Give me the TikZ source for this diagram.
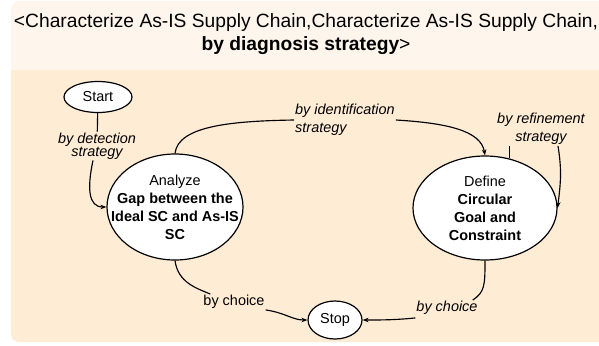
\documentclass[tikz,border=0pt]{standalone}
\usepackage{fontspec}
\setmainfont{Liberation Sans}
\usetikzlibrary{shapes.geometric,arrows.meta}
\definecolor{headbg}{RGB}{254,246,236}
\definecolor{bodybg}{RGB}{254,236,213}
\tikzset{
  stateell/.style={ellipse,draw=black,line width=1.2bp,fill=white,inner sep=0pt},
  ntext/.style={align=center,font=\fontsize{14.5}{18}\selectfont},
  lbl/.style={align=center,inner sep=1bp,font=\fontsize{14.5}{18}\selectfont\itshape},
  conn/.style={line width=1.15bp,draw=black},
  arr/.style={conn,-{Stealth[length=6bp,width=4.5bp]}}
}
\begin{document}
\begin{tikzpicture}[x=1bp,y=-1bp]
\useasboundingbox (0,0) rectangle (599,345);
% background
\fill[bodybg,rounded corners=8bp] (11,50) rectangle (640,342);
\fill[headbg] (11,70) [rounded corners=8bp] -- (11,1) -- (640,1) [sharp corners] -- (640,70) -- cycle;
% title
\node[align=center,font=\fontsize{19.3}{23.5}\selectfont] (title) at (306,34)
  {<Characterize As-IS Supply Chain,Characterize As-IS Supply Chain,\\\textbf{by diagnosis strategy}>};
% states
\node[stateell,minimum width=68bp,minimum height=31bp,font=\fontsize{14.5}{18}\selectfont] (st) at (98,97) {Start};
\node[stateell,minimum width=54bp,minimum height=38bp,font=\fontsize{14.5}{18}\selectfont] (sp) at (335,320) {Stop};
\node[stateell,minimum width=136bp,minimum height=106bp,
  label={[ntext]center:Analyze\\\textbf{Gap between the}\\\textbf{Ideal SC and As-IS}\\\textbf{SC}}] (an) at (175,207) {};
\node[stateell,minimum width=144bp,minimum height=104bp,
  label={[ntext]center:Define\\\textbf{Circular}\\\textbf{Goal and}\\\textbf{Constraint}}] (df) at (485,208) {};
% labels
\node[lbl,font=\fontsize{14.5}{13}\selectfont\itshape] (det) at (97,146) {by detection\\strategy};
\node[lbl,align=left,anchor=west] (idl) at (294,120) {by identification\\strategy};
\node[lbl] (ref) at (541,129) {by refinement\\strategy};
\node[lbl,font=\fontsize{14.5}{18}\selectfont] (ch1) at (234,302) {by choice};
\node[lbl] (ch2) at (447,308) {by choice};
% connectors
\draw[conn] (st) -- (det);
\draw[arr] ([xshift=-4bp]det.south) .. controls +(-6,28) and +(-18,0) .. (an.west);
\draw[conn] (an.north) .. controls +(3,-28) and +(-60,1) .. (idl.west);
\draw[arr] (idl.east) .. controls +(50,3) and +(-4,-25) .. (df.north);
\draw[conn] (df.64) -- (df.64 |- ref.south);
\draw[arr] ([xshift=17bp]ref.south) .. controls +(4,25) and +(3,-25) .. (df.east);
\draw[conn] (an.south) .. controls +(3,22) and +(-14,-6) .. ([xshift=8bp]ch1.north west);
\draw[arr] (ch1.south east) .. controls +(20,3) and +(-15,0) .. (sp.west);
\draw[conn] (df.south) .. controls +(0,25) and +(12,-8) .. ([xshift=-6bp]ch2.north east);
\draw[arr] ([yshift=-2bp]ch2.south west) .. controls +(-20,2) and +(20,0) .. (sp.east);
\end{tikzpicture}
\end{document}
